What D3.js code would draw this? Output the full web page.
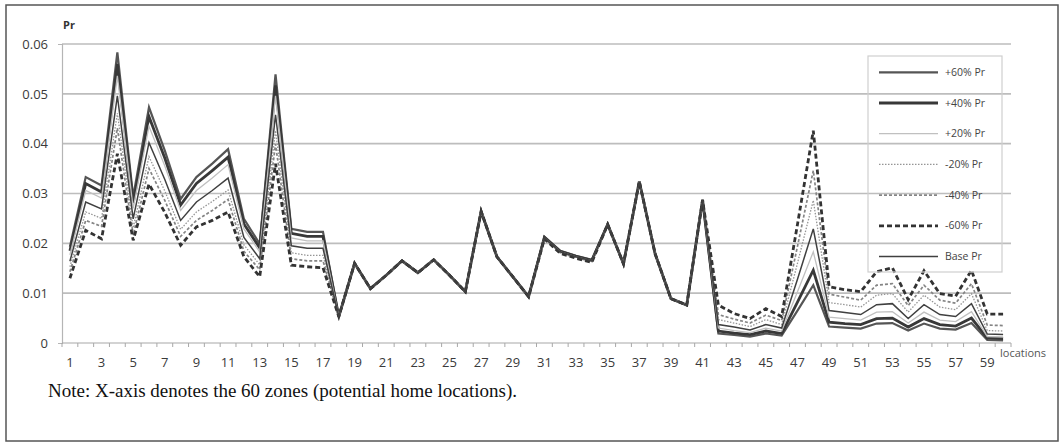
<!DOCTYPE html>
<html>
<head>
<meta charset="utf-8">
<script src="https://cdn.jsdelivr.net/npm/d3@7"></script>
<style>
  body { margin: 0; background: #fff; }
  svg { display: block; }
</style>
</head>
<body>
<div id="vis"></div>
<script>
// zones 1..60
let zones = d3.range(1, 61);

// y ticks
let yTicks = [0, 0.01, 0.02, 0.03, 0.04, 0.05, 0.06];

// series values
let plus60 = [0.0193, 0.0333, 0.0316, 0.0583, 0.0293, 0.0473, 0.0386, 0.0289, 0.0333, 0.0360,
  0.0389, 0.0249, 0.0199, 0.0539, 0.0229, 0.0223, 0.0223, 0.0053, 0.0160, 0.0109,
  0.0136, 0.0165, 0.0141, 0.0167, 0.0136, 0.0103, 0.0264, 0.0173, 0.0133, 0.0093,
  0.0213, 0.0185, 0.0175, 0.0167, 0.0238, 0.0159, 0.0324, 0.0179, 0.0089, 0.0076,
  0.0287, 0.0019, 0.0016, 0.0013, 0.0019, 0.0015, 0.0065, 0.0116, 0.0033, 0.0031,
  0.0029, 0.0039, 0.0040, 0.0025, 0.0039, 0.0029, 0.0027, 0.0040, 0.0006, 0.0005];

let plus40 = [0.0185, 0.0320, 0.0303, 0.0560, 0.0281, 0.0454, 0.0371, 0.0277, 0.0320, 0.0346,
  0.0373, 0.0239, 0.0191, 0.0517, 0.0220, 0.0214, 0.0214, 0.0053, 0.0160, 0.0109,
  0.0136, 0.0165, 0.0141, 0.0167, 0.0136, 0.0103, 0.0264, 0.0173, 0.0133, 0.0093,
  0.0212, 0.0184, 0.0174, 0.0166, 0.0238, 0.0159, 0.0324, 0.0179, 0.0089, 0.0076,
  0.0287, 0.0024, 0.0020, 0.0017, 0.0024, 0.0019, 0.0082, 0.0146, 0.0042, 0.0039,
  0.0037, 0.0049, 0.0050, 0.0032, 0.0049, 0.0037, 0.0034, 0.0050, 0.0010, 0.0009];

let plus20 = [0.0177, 0.0306, 0.0291, 0.0536, 0.0270, 0.0435, 0.0355, 0.0266, 0.0306, 0.0331,
  0.0358, 0.0229, 0.0183, 0.0496, 0.0211, 0.0205, 0.0205, 0.0053, 0.0160, 0.0109,
  0.0136, 0.0165, 0.0141, 0.0167, 0.0136, 0.0103, 0.0264, 0.0173, 0.0133, 0.0093,
  0.0211, 0.0183, 0.0173, 0.0165, 0.0238, 0.0159, 0.0324, 0.0179, 0.0089, 0.0076,
  0.0287, 0.0030, 0.0025, 0.0021, 0.0030, 0.0024, 0.0103, 0.0183, 0.0052, 0.0049,
  0.0046, 0.0062, 0.0063, 0.0040, 0.0062, 0.0046, 0.0043, 0.0063, 0.0013, 0.0012];

let minus20 = [0.0153, 0.0263, 0.0250, 0.0461, 0.0231, 0.0374, 0.0305, 0.0228, 0.0263, 0.0284,
  0.0307, 0.0197, 0.0157, 0.0426, 0.0181, 0.0176, 0.0176, 0.0053, 0.0160, 0.0109,
  0.0136, 0.0165, 0.0141, 0.0167, 0.0136, 0.0103, 0.0264, 0.0173, 0.0133, 0.0093,
  0.0210, 0.0182, 0.0172, 0.0164, 0.0238, 0.0159, 0.0324, 0.0179, 0.0089, 0.0076,
  0.0287, 0.0047, 0.0040, 0.0033, 0.0047, 0.0037, 0.0160, 0.0286, 0.0081, 0.0077,
  0.0072, 0.0096, 0.0099, 0.0062, 0.0096, 0.0072, 0.0067, 0.0099, 0.0025, 0.0024];

let minus40 = [0.0143, 0.0246, 0.0234, 0.0431, 0.0217, 0.0350, 0.0286, 0.0214, 0.0246, 0.0266,
  0.0288, 0.0184, 0.0147, 0.0399, 0.0169, 0.0165, 0.0165, 0.0053, 0.0160, 0.0109,
  0.0136, 0.0165, 0.0141, 0.0167, 0.0136, 0.0103, 0.0264, 0.0173, 0.0133, 0.0093,
  0.0210, 0.0181, 0.0171, 0.0163, 0.0238, 0.0159, 0.0324, 0.0179, 0.0089, 0.0076,
  0.0287, 0.0057, 0.0048, 0.0040, 0.0056, 0.0045, 0.0194, 0.0346, 0.0098, 0.0092,
  0.0086, 0.0116, 0.0119, 0.0075, 0.0116, 0.0086, 0.0080, 0.0119, 0.0036, 0.0035];

let minus60 = [0.0130, 0.0226, 0.0209, 0.0380, 0.0206, 0.0319, 0.0262, 0.0196, 0.0233, 0.0246,
  0.0263, 0.0173, 0.0133, 0.0360, 0.0156, 0.0153, 0.0151, 0.0053, 0.0160, 0.0109,
  0.0136, 0.0165, 0.0141, 0.0167, 0.0136, 0.0103, 0.0264, 0.0173, 0.0133, 0.0093,
  0.0209, 0.0180, 0.0170, 0.0162, 0.0238, 0.0159, 0.0324, 0.0179, 0.0089, 0.0076,
  0.0287, 0.0076, 0.0059, 0.0049, 0.0069, 0.0053, 0.0238, 0.0426, 0.0113, 0.0107,
  0.0103, 0.0143, 0.0151, 0.0087, 0.0145, 0.0099, 0.0094, 0.0146, 0.0058, 0.0058];

let basePr = [0.0164, 0.0283, 0.0269, 0.0496, 0.0249, 0.0402, 0.0328, 0.0246, 0.0283, 0.0306,
  0.0331, 0.0212, 0.0169, 0.0458, 0.0195, 0.0190, 0.0190, 0.0053, 0.0160, 0.0109,
  0.0136, 0.0165, 0.0141, 0.0167, 0.0136, 0.0103, 0.0264, 0.0173, 0.0133, 0.0093,
  0.0211, 0.0183, 0.0173, 0.0165, 0.0238, 0.0159, 0.0324, 0.0179, 0.0089, 0.0076,
  0.0287, 0.0037, 0.0032, 0.0026, 0.0037, 0.0030, 0.0128, 0.0229, 0.0065, 0.0061,
  0.0057, 0.0077, 0.0079, 0.0049, 0.0077, 0.0057, 0.0053, 0.0079, 0.0018, 0.0017];

let seriesNames = ['+60% Pr', '+40% Pr', '+20% Pr', '-20% Pr', '-40% Pr', '-60% Pr', 'Base Pr'];
let seriesValues = [plus60, plus40, plus20, minus20, minus40, minus60, basePr];

// line styles per series
let styles = {
  '+60% Pr': { stroke: '#555555', width: 2.2, dash: null },
  '+40% Pr': { stroke: '#383838', width: 2.8, dash: null },
  '+20% Pr': { stroke: '#c0c0c0', width: 1.3, dash: null },
  '-20% Pr': { stroke: '#959595', width: 1.3, dash: '1.5,1.5' },
  '-40% Pr': { stroke: '#858585', width: 1.7, dash: '3,2' },
  '-60% Pr': { stroke: '#333333', width: 2.8, dash: '5,3' },
  'Base Pr': { stroke: '#404040', width: 1.5, dash: null }
};

let width = 1060,
    height = 443;

let margin = { top: 44, bottom: 100, left: 62, right: 49 };

let svg = d3.select('#vis')
            .append('svg')
            .attr('width', width)
            .attr('height', height);

// outer frame
svg.append('rect')
    .attr('x', 6).attr('y', 5)
    .attr('width', 1052).attr('height', 436)
    .attr('fill', 'none')
    .attr('stroke', '#555')
    .attr('stroke-width', 1.5);

let xScale = d3.scaleBand()
    .domain(zones)
    .range([margin.left, width - margin.right])
    .padding(0);

let yScale = d3.scaleLinear()
    .domain([0, 0.06])
    .range([height - margin.bottom, margin.top]);

let x0 = margin.left, x1 = width - margin.right;
let y0 = yScale(0);

// gridlines
svg.append('g')
    .selectAll('line')
    .data(yTicks.filter(d => d > 0))
    .enter()
    .append('line')
    .attr('x1', x0).attr('x2', x1)
    .attr('y1', d => yScale(d)).attr('y2', d => yScale(d))
    .attr('stroke', '#bdbdbd')
    .attr('stroke-width', 1.7);

// y axis
let yAxis = svg.append('g')
    .attr('transform', `translate(${x0}, 0)`)
    .call(d3.axisLeft(yScale).tickValues(yTicks).tickFormat(d => d === 0 ? '0' : d3.format('.2f')(d)).tickSize(4).tickPadding(10));
yAxis.select('.domain').attr('stroke', '#b5b5b5').attr('stroke-width', 1.2);
yAxis.selectAll('.tick line').attr('stroke', '#b5b5b5')
    .filter(d => d > 0).remove();
yAxis.selectAll('text')
    .style('font-family', 'Open Sans, sans-serif')
    .style('font-size', '13px')
    .attr('fill', '#3a3a3a');

// x axis (labels only, tick marks at zone boundaries)
let xAxis = svg.append('g')
    .attr('transform', `translate(0, ${y0})`)
    .call(d3.axisBottom(xScale).tickValues(zones.filter(d => d % 2 === 1)).tickSize(0).tickPadding(15));
xAxis.select('.domain').remove();
xAxis.selectAll('text')
    .style('font-family', 'Open Sans, sans-serif')
    .style('font-size', '13px')
    .attr('fill', '#3a3a3a');

svg.append('line')
    .attr('x1', x0).attr('x2', x1)
    .attr('y1', y0).attr('y2', y0)
    .attr('stroke', '#a8a8a8')
    .attr('stroke-width', 1.2);

svg.append('g')
    .selectAll('line')
    .data(zones.concat([61]))
    .enter()
    .append('line')
    .attr('x1', d => d <= 60 ? xScale(d) : x1)
    .attr('x2', d => d <= 60 ? xScale(d) : x1)
    .attr('y1', y0).attr('y2', y0 + 4)
    .attr('stroke', '#a8a8a8')
    .attr('stroke-width', 1);

// axis titles
svg.append('text')
    .attr('x', 63).attr('y', 29)
    .text('Pr')
    .style('font-family', 'Open Sans, sans-serif')
    .style('font-size', '11px')
    .style('font-weight', 'bold')
    .attr('fill', '#333');

svg.append('text')
    .attr('x', 1000).attr('y', 357)
    .text('locations')
    .style('font-family', 'Open Sans, sans-serif')
    .style('font-size', '11px')
    .attr('fill', '#555');

// lines
let line = d3.line()
    .x((d, i) => xScale(zones[i]) + xScale.bandwidth() / 2)
    .y(d => yScale(d));

seriesNames.forEach(function(name, k) {
  let s = styles[name];
  svg.append('path')
      .datum(seriesValues[k])
      .attr('d', line)
      .attr('fill', 'none')
      .attr('stroke', s.stroke)
      .attr('stroke-width', s.width)
      .attr('stroke-dasharray', s.dash)
      .attr('stroke-linejoin', 'miter');
});

// legend
let legend = svg.append('g');
legend.append('rect')
    .attr('x', 868).attr('y', 56)
    .attr('width', 134).attr('height', 216)
    .attr('fill', 'none')
    .attr('stroke', '#cfcfcf')
    .attr('stroke-width', 1.2);

seriesNames.forEach(function(name, k) {
  let s = styles[name];
  let ly = 72.3 + k * 30.7;
  legend.append('line')
      .attr('x1', 879).attr('x2', 938)
      .attr('y1', ly).attr('y2', ly)
      .attr('stroke', s.stroke)
      .attr('stroke-width', s.width)
      .attr('stroke-dasharray', s.dash);
  legend.append('text')
      .attr('x', 945).attr('y', ly + 3.5)
      .text(name)
      .style('font-family', 'Open Sans, sans-serif')
      .style('font-size', '10.5px')
      .attr('fill', '#444');
});

// note
svg.append('text')
    .attr('x', 48).attr('y', 397)
    .text('Note: X-axis denotes the 60 zones (potential home locations).')
    .style('font-family', 'Liberation Serif, Times New Roman, serif')
    .style('font-size', '19px')
    .attr('fill', '#111');
</script>
</body>
</html>
